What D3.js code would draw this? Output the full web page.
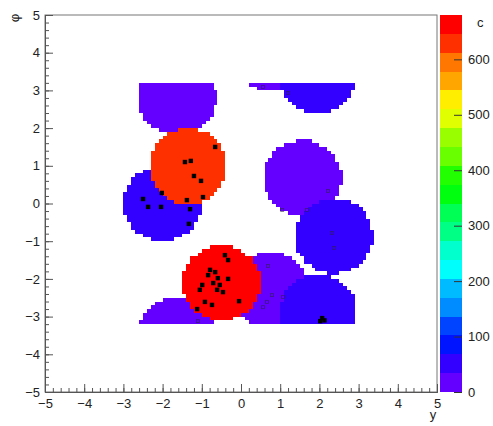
<!DOCTYPE html>
<html><head><meta charset="utf-8">
<script src="https://cdn.jsdelivr.net/npm/d3@7"></script>
<style>
body{margin:0;background:#fff}
svg{display:block}
text{font-family:"Liberation Sans",Arial,Helvetica,sans-serif}
</style>
</head><body>
<svg id="chart" width="493" height="426"></svg>
<script>
// ---- data ----
// jets: centre (rapidity y, azimuth phi), transverse momentum (colour)
const jetEta = [-0.50, -1.35, -2.00,  2.37,  1.95, 1.57,  0.75, -1.62];
const jetPhi = [-2.11,  0.99,  0.00, -0.86, -2.88, 0.67, -2.30,  2.80];
const jetPt  = [ 680,   640,   52,    50,    48,   22,    20,    18  ];
const jetR = 1.0;
// hard particles (black squares)
const hardEta = [-0.66,-1.43,-1.28,-1.20,-1.02,-0.97,-1.38,-2.02,-2.50,-2.37,-2.04,-1.30,-1.33,
                 -0.41,-0.33,-0.79,-0.66,-0.84,-0.59,-0.33,-0.71,-0.54,-0.99,-0.61,-0.46,-1.05,-0.92,-0.74,-0.05,-1.12,
                  2.07, 2.13, 2.02];
const hardPhi = [ 1.50, 1.10, 1.13, 0.73, 0.60, 0.17, 0.09, 0.28, 0.12,-0.09,-0.09,-0.15,-0.54,
                 -1.37,-1.50,-1.76,-1.82,-1.90,-1.98,-2.00,-2.11,-2.16,-2.16,-2.29,-2.35,-2.29,-2.61,-2.69,-2.59,-2.80,
                 -3.04,-3.10,-3.12];
// soft particles (small dark markers)
const softEta = [0.69, 0.79, 0.66, 0.56, 1.07, 2.22, 1.68, 1.05, 2.32, 2.37, 0.56, 1.20, -1.10];
const softPhi = [-1.66,-2.43,-2.61,-2.75,-2.48, 0.33,-0.17,-0.17,-0.78,-1.18, 3.09, 2.93, -3.12];
// axis ticks
const xTicks = [-5,-4,-3,-2,-1,0,1,2,3,4,5];
const yTicks = [-5,-4,-3,-2,-1,0,1,2,3,4,5];
const zTicks = [0,100,200,300,400,500,600];
const zMax = 680;
const nContours = 20;
const cellSize = 0.1;

// ---- drawing ----
const svg = d3.select("#chart");
const x = d3.scaleLinear().domain([-5,5]).range([45,437]);
const y = d3.scaleLinear().domain([-5,5]).range([392,15]);
const z = d3.scaleLinear().domain([0,zMax]).range([392,15]);

function paletteColor(k){ // ROOT pretty palette (violet -> red), 50 colours
  const idx = Math.floor((k+0.99)*50/nContours);
  const hue = 280 - (idx+1)*5.6;
  return d3.hsl(hue,1,0.5).formatHex();
}
function bandOf(v){ return Math.min(nContours-1, Math.max(0, Math.floor(v/zMax*nContours))); }

// jet area cells (ghost cells assigned to jets)
const cells = [];
const nE = Math.round(10/cellSize), nP = 64;
for(let i=0;i<nE;i++){
  const e0 = -5 + i*cellSize, ec = e0 + cellSize/2;
  for(let j=0;j<nP;j++){
    const p0 = -3.2 + j*cellSize, pc = p0 + cellSize/2;
    let best=-1, bestM=Infinity;
    for(let k=0;k<jetEta.length;k++){
      let dp = pc - jetPhi[k];
      while(dp > Math.PI) dp -= 2*Math.PI;
      while(dp < -Math.PI) dp += 2*Math.PI;
      const de = ec - jetEta[k];
      const dr2 = de*de + dp*dp;
      if(dr2 < jetR*jetR){
        const m = dr2/(jetPt[k]*jetPt[k]);
        if(m < bestM){bestM=m; best=k;}
      }
    }
    if(best>=0) cells.push({e0, p0, pt: jetPt[best]});
  }
}
svg.append("g").selectAll("rect").data(cells).join("rect")
  .attr("x", d=>Math.round(x(d.e0)))
  .attr("y", d=>Math.round(y(d.p0+cellSize)))
  .attr("width", d=>Math.round(x(d.e0+cellSize))-Math.round(x(d.e0)))
  .attr("height", d=>Math.round(y(d.p0))-Math.round(y(d.p0+cellSize)))
  .attr("fill", d=>paletteColor(bandOf(d.pt)))
  .attr("shape-rendering","crispEdges");

// particles
svg.append("g").selectAll("rect").data(softEta.map((e,i)=>({e, p: softPhi[i]}))).join("rect")
  .attr("x", d=>x(d.e)-1.5).attr("y", d=>y(d.p)-1.5)
  .attr("width",3).attr("height",3)
  .attr("fill","none").attr("stroke","#302050").attr("stroke-opacity",0.7).attr("stroke-width",0.8);
svg.append("g").selectAll("rect").data(hardEta.map((e,i)=>({e, p: hardPhi[i]}))).join("rect")
  .attr("x", d=>x(d.e)-2.2).attr("y", d=>y(d.p)-2.2)
  .attr("width",4.4).attr("height",4.4)
  .attr("fill","#000");

// frame
svg.append("rect").attr("x",45).attr("y",15).attr("width",392).attr("height",377)
  .attr("fill","none").attr("stroke","#777").attr("stroke-width",1);

function minorTicks(lo,hi,step){ const a=[]; for(let v=lo; v<=hi+1e-9; v+=step) a.push(+v.toFixed(4)); return a; }

// x axis
const gx = svg.append("g").attr("transform","translate(0,392)");
gx.call(d3.axisBottom(x).tickValues(xTicks).tickSize(-8).tickPadding(4).tickFormat(d3.format("d")));
gx.append("g").call(d3.axisBottom(x).tickValues(minorTicks(-5,5,0.2)).tickSize(-4).tickFormat(""));
// y axis
const gy = svg.append("g").attr("transform","translate(45,0)");
gy.call(d3.axisLeft(y).tickValues(yTicks).tickSize(-8).tickPadding(5).tickFormat(d3.format("d")));
gy.append("g").call(d3.axisLeft(y).tickValues(minorTicks(-5,5,0.2)).tickSize(-4).tickFormat(""));
[gx,gy].forEach(g=>{
  g.selectAll("path.domain").attr("stroke","#555");
  g.selectAll("line").attr("stroke","#555");
  g.selectAll("text").attr("fill","#222").style("font-size","13px");
});
gx.selectAll(".tick text").attr("dy","0.9em");

// axis titles
svg.append("text").attr("x",433).attr("y",419).attr("text-anchor","middle")
  .style("font-size","13px").attr("fill","#222").text("y");
svg.append("text").attr("transform","translate(14,18) rotate(-90)").attr("text-anchor","middle")
  .attr("dy","0.35em").style("font-size","13px").attr("fill","#222").text("φ");

// colour bar
const bands = d3.range(nContours);
svg.append("g").selectAll("rect").data(bands).join("rect")
  .attr("x",440).attr("width",22)
  .attr("y", k=>Math.round(z((k+1)*zMax/nContours)))
  .attr("height", k=>Math.round(z(k*zMax/nContours))-Math.round(z((k+1)*zMax/nContours)))
  .attr("fill", k=>paletteColor(k))
  .attr("shape-rendering","crispEdges");
const gz = svg.append("g").attr("transform","translate(462,0)");
gz.call(d3.axisRight(z).tickValues(zTicks).tickSize(-8).tickPadding(6).tickFormat(d3.format("d")));
gz.select("path.domain").remove();
gz.selectAll("line").attr("stroke","#333");
gz.selectAll("text").attr("fill","#222").style("font-size","13px");
svg.append("text").attr("x",477).attr("y",27).style("font-size","13px").attr("fill","#222").text("c");
</script>
</body></html>
